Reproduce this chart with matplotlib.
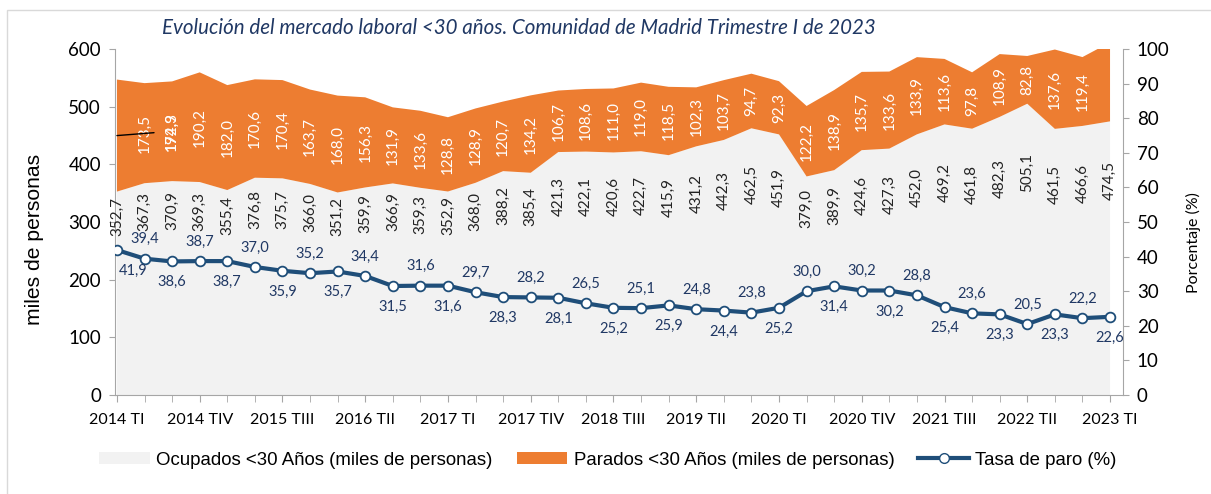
import numpy as np
import matplotlib.pyplot as plt
from matplotlib.patches import Rectangle, Patch
from matplotlib.lines import Line2D

# trimestres 2014 TI .. 2023 TI
trimestres = [f"{a} {t}" for a in range(2014, 2024) for t in ("TI", "TII", "TIII", "TIV")][:37]

ocupados = [352.7, 367.3, 370.9, 369.3, 355.4, 376.8, 375.7, 366.0, 351.2, 359.9,
            366.9, 359.3, 352.9, 368.0, 388.2, 385.4, 421.3, 422.1, 420.6, 422.7,
            415.9, 431.2, 442.3, 462.5, 451.9, 379.0, 389.9, 424.6, 427.3, 452.0,
            469.2, 461.8, 482.3, 505.1, 461.5, 466.6, 474.5]
parados = [194.3, 173.5, 172.9, 190.2, 182.0, 170.6, 170.4, 163.7, 168.0, 156.3,
           131.9, 133.6, 128.8, 128.9, 120.7, 134.2, 106.7, 108.6, 111.0, 119.0,
           118.5, 102.3, 103.7, 94.7, 92.3, 122.2, 138.9, 135.7, 133.6, 133.9,
           113.6, 97.8, 108.9, 82.8, 137.6, 119.4, 137.0]
tasa = [41.9, 39.4, 38.6, 38.7, 38.7, 37.0, 35.9, 35.2, 35.7, 34.4,
        31.5, 31.6, 31.6, 29.7, 28.3, 28.2, 28.1, 26.5, 25.2, 25.1,
        25.9, 24.8, 24.4, 23.8, 25.2, 30.0, 31.4, 30.2, 30.2, 28.8,
        25.4, 23.6, 23.3, 20.5, 23.3, 22.2, 22.6]

GRIS, NARANJA, AZUL, AZUL_TXT = "#F2F2F2", "#ED7D31", "#1F4E79", "#203864"
EJE = "#A6A6A6"
fmt = lambda v: f"{v:.1f}".replace(".", ",")

plt.rcParams["font.family"] = ["Lato", "DejaVu Sans"]

x = np.arange(len(trimestres))
ocu = np.array(ocupados); par = np.array(parados)

fig = plt.figure(figsize=(12.11, 4.94), dpi=100)
ax = fig.add_axes([115 / 1211, 1 - 395 / 494, (1123 - 115) / 1211, (395 - 49) / 494])
ax.stackplot(x, ocu, par, colors=[GRIS, NARANJA], linewidth=0)
ax.set_xlim(-0.07, 36.47); ax.set_ylim(0, 600)
ax.set_yticks(range(0, 601, 100))
ax.set_xticks(x, minor=True)
ax.set_xticks(x[::3]); ax.set_xticklabels(trimestres[::3], fontsize=11.5)
ax.tick_params(axis="y", labelsize=13.5, length=4, color=EJE, pad=6)
ax.tick_params(axis="x", which="both", length=5, color=EJE, pad=8)
for s in ("top", "right"):
    ax.spines[s].set_visible(False)
for s in ("left", "bottom"):
    ax.spines[s].set_color(EJE)
ax.set_ylabel("miles de personas", fontsize=15.2, family=["Liberation Sans"])
ax.yaxis.set_label_coords(-0.07, 0.45)

# etiquetas ocupados / parados
for i in x:
    ax.text(i, ocu[i] / 2 + 134, fmt(ocu[i]), rotation=90, ha="center", va="center",
            fontsize=11, color="#222222")
    if i == 0 or i == 36:
        continue
    ax.text(i, ocu[i] + par[i] / 2, fmt(par[i]), rotation=90, ha="center", va="center",
            fontsize=11, color="white")
# la etiqueta del primer trimestre fue desplazada con línea guía
ax.annotate(fmt(par[0]), xy=(0, ocu[0] + par[0] / 2), xytext=(2, ocu[2] + par[2] / 2),
            rotation=90, ha="center", va="center", fontsize=11, color="white",
            arrowprops=dict(arrowstyle="-", color="black", lw=1, shrinkA=6, shrinkB=0))

ax2 = ax.twinx()
ax2.plot(x, tasa, color=AZUL, lw=3, marker="o", ms=7, mfc="white", mec=AZUL, mew=1.3,
         zorder=3)
ax2.set_ylim(0, 100); ax2.set_yticks(range(0, 101, 10))
ax2.tick_params(axis="y", labelsize=13.5, length=4, color=EJE, pad=6)
for s in ("top", "left", "bottom"):
    ax2.spines[s].set_visible(False)
ax2.spines["right"].set_color(EJE)
ax2.set_ylabel("Porcentaje (%)", fontsize=11.5)
ax2.yaxis.set_label_coords(1.062, 0.44)
for i in x:
    arriba = i % 2 == 1
    dx = 12 if i == 0 else 0
    ax2.annotate(fmt(tasa[i]), (i, tasa[i]), xytext=(dx, 9 if arriba else -10),
                 textcoords="offset points", ha="center",
                 va="bottom" if arriba else "top", fontsize=10.5, color=AZUL_TXT)

fig.text(519 / 1211, 1 - 28 / 494, "Evolución del mercado laboral <30 años. Comunidad de Madrid "
         "Trimestre I de 2023", ha="center", va="center", fontsize=14.8, style="italic",
         color=AZUL_TXT)

handles = [Patch(facecolor=GRIS, edgecolor="none"), Patch(facecolor=NARANJA, edgecolor="none"),
           Line2D([], [], color=AZUL, lw=3, marker="o", ms=7, mfc="white", mec=AZUL)]
labels = ["Ocupados <30 Años (miles de personas)", "Parados <30 Años (miles de personas)",
          "Tasa de paro (%)"]
fig.legend(handles, labels, loc="center", bbox_to_anchor=(608 / 1211, 1 - 460 / 494), ncol=3,
           frameon=False, prop={"family": "Liberation Sans", "size": 13.4},
           handlelength=2.7, handleheight=0.55, handletextpad=0.35, columnspacing=1.3)

fig.patches.append(Rectangle((7 / 1211, -0.1), 1.2, 1 - 10 / 494 + 0.1,
                             transform=fig.transFigure, fill=False, edgecolor="#D9D9D9",
                             lw=1))
fig.savefig("out.png", dpi=100)
